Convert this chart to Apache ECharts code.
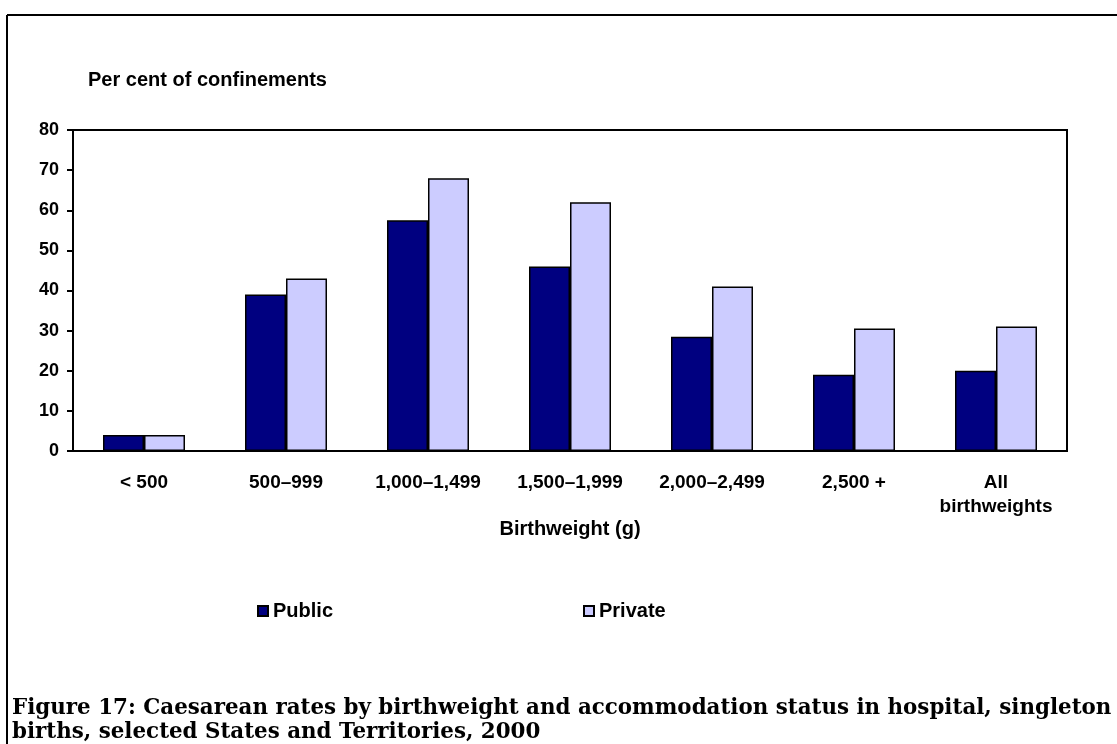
<!DOCTYPE html>
<html>
<head>
<meta charset="utf-8">
<script src="https://cdn.jsdelivr.net/npm/echarts@6/dist/echarts.min.js"></script>
<style>
html,body{margin:0;padding:0;background:#fff;}
#chart{width:1117px;height:744px;}
</style>
</head>
<body>
<div id="chart"></div>
<script>
const categories = ['< 500', '500–999', '1,000–1,499', '1,500–1,999', '2,000–2,499', '2,500 +', 'All\nbirthweights'];
const publicValues = [4, 39, 57.5, 46, 28.5, 19, 20];
const privateValues = [4, 43, 68, 62, 41, 30.5, 31];
const yTicks = { min: 0, max: 80, interval: 10 };

const sans = '"Liberation Sans", Arial, sans-serif';
const chart = echarts.init(document.getElementById('chart'));
chart.setOption({
  animation: false,
  backgroundColor: '#fff',
  title: {
    text: 'Figure 17: Caesarean rates by birthweight and accommodation status in hospital, singleton\nbirths, selected States and Territories, 2000',
    left: 12,
    top: 696,
    padding: 0,
    textStyle: { fontFamily: '"DejaVu Serif", serif', fontWeight: 'bold', fontSize: 21.4, lineHeight: 24, color: '#000' }
  },
  graphic: [
    { type: 'line', shape: { x1: 7, y1: 15, x2: 1117, y2: 15 }, style: { stroke: '#000', lineWidth: 2 } },
    { type: 'line', shape: { x1: 7, y1: 15, x2: 7, y2: 744 }, style: { stroke: '#000', lineWidth: 2 } }
  ],
  legend: [
    {
      data: ['Public'], left: 257, top: 601, padding: 0, itemWidth: 10, itemHeight: 10, itemGap: 6,
      icon: 'rect',
      textStyle: { fontFamily: sans, fontWeight: 'bold', fontSize: 20, color: '#000', padding: [0,0,0,0] }
    },
    {
      data: ['Private'], left: 583, top: 601, padding: 0, itemWidth: 10, itemHeight: 10, itemGap: 6,
      icon: 'rect',
      textStyle: { fontFamily: sans, fontWeight: 'bold', fontSize: 20, color: '#000', padding: [0,0,0,0] }
    }
  ],
  grid: { left: 73, right: 50, top: 130, bottom: 293, show: true, borderColor: '#000', borderWidth: 2, containLabel: false },
  xAxis: {
    type: 'category',
    data: categories,
    name: 'Birthweight (g)',
    nameLocation: 'middle',
    nameGap: 66,
    nameTextStyle: { fontFamily: sans, fontWeight: 'bold', fontSize: 20, color: '#000' },
    axisLine: { lineStyle: { color: '#000', width: 2 } },
    axisTick: { show: false },
    axisLabel: { fontFamily: sans, fontWeight: 'bold', fontSize: 19, color: '#000', margin: 20, lineHeight: 24, interval: 0 }
  },
  yAxis: {
    type: 'value',
    min: yTicks.min, max: yTicks.max, interval: yTicks.interval,
    name: 'Per cent of confinements',
    nameLocation: 'end',
    nameGap: 40,
    nameTextStyle: { fontFamily: sans, fontWeight: 'bold', fontSize: 20, color: '#000', align: 'left', padding: [0,0,0,15] },
    axisLine: { show: true, lineStyle: { color: '#000', width: 2 } },
    axisTick: { show: true, inside: false, length: 6, lineStyle: { color: '#000', width: 2 } },
    axisLabel: { fontFamily: sans, fontWeight: 'bold', fontSize: 18, color: '#000', margin: 14 },
    splitLine: { show: false }
  },
  series: [
    {
      name: 'Public', type: 'bar', data: publicValues, barWidth: 41, barGap: '0%',
      itemStyle: { color: '#000080', borderColor: '#000', borderWidth: 1.5 }
    },
    {
      name: 'Private', type: 'bar', data: privateValues, barWidth: 41, barGap: '0%',
      itemStyle: { color: '#CCCCFF', borderColor: '#000', borderWidth: 1.5 }
    }
  ]
});
</script>
</body>
</html>
